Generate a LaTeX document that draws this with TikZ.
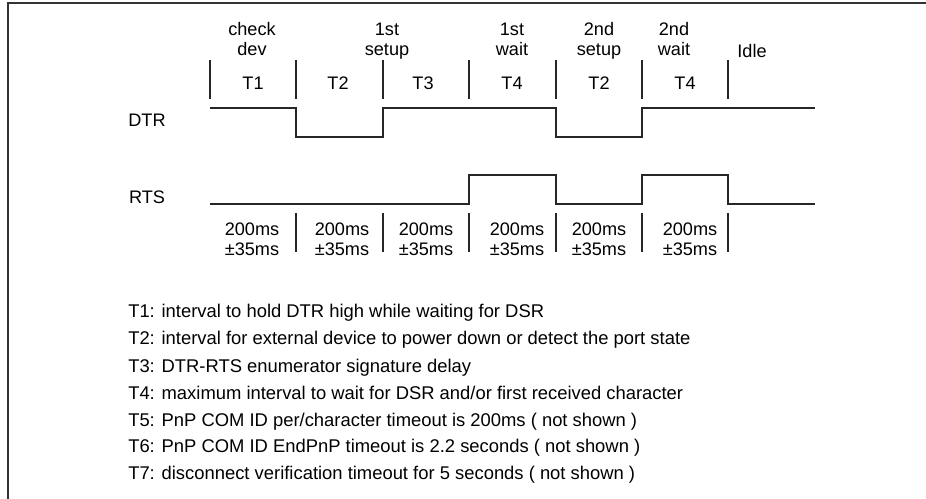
\documentclass[tikz,border=0pt]{standalone}
\usepackage{fontspec}
\setmainfont{Liberation Sans}
\begin{document}
\begin{tikzpicture}[x=0.75pt,y=-0.75pt,
  lbl/.style={inner sep=0pt, align=center, font=\fontsize{13.6}{15}\selectfont, text=black, text height=9.7pt, text depth=0pt},
  two/.style={inner sep=0pt, align=center, anchor=base, font=\fontsize{13.6}{15}\selectfont, text=black},
  legend/.style={inner sep=0pt, anchor=west, font=\fontsize{13.8}{15}\selectfont, text=black, text height=9.9pt, text depth=0pt},
  sig/.style={line width=0.9pt, draw=black!85},
  tickline/.style={line width=1pt, draw=black!85},
  frame/.style={line width=1.5pt, draw=black!80}]
\useasboundingbox (0,0) rectangle (926,499);
\draw[frame] (8,499) -- (8,3) -- (926,3);
% phase labels
\node[two] (p1) at (252,55.5) {check\\dev};
\node[two] (p2) at (387,55.5) {1st\\setup};
\node[two] (p3) at (512,55.5) {1st\\wait};
\node[two] (p4) at (599,55.5) {2nd\\setup};
\node[two] (p5) at (674,55.5) {2nd\\wait};
\node[two] (p6) at (752,57.5) {Idle};
% T labels
\node[lbl] (t1) at (253,83) {T1};
\node[lbl] (t2) at (338,83) {T2};
\node[lbl] (t3) at (423,83) {T3};
\node[lbl] (t4) at (512,83) {T4};
\node[lbl] (t5) at (599,83) {T2};
\node[lbl] (t6) at (685,83) {T4};
% top ticks
\foreach \x in {210,296,383,469,556,642,728} \draw[tickline] (\x,60) -- (\x,99);
% bottom ticks
\foreach \x in {296,383,469,556,642,728} \draw[tickline] (\x,213) -- (\x,252);
% signal names
\node[lbl] (dtr) at (147,120) {DTR};
\node[lbl] (rts) at (147,197) {RTS};
% DTR waveform
\draw[sig] (210,108) -- (296,108) -- (296,137) -- (383,137) -- (383,108) -- (556,108) -- (556,137) -- (642,137) -- (642,108) -- (815,108);
% RTS waveform
\draw[sig] (210,204) -- (469,204) -- (469,175) -- (556,175) -- (556,204) -- (642,204) -- (642,175) -- (728,175) -- (728,204) -- (815,204);
% durations
\node[two] (d1) at (252,255.5) {200ms\\±35ms};
\node[two] (d2) at (342,255.5) {200ms\\±35ms};
\node[two] (d3) at (426,255.5) {200ms\\±35ms};
\node[two] (d4) at (517,255.5) {200ms\\±35ms};
\node[two] (d5) at (599,255.5) {200ms\\±35ms};
\node[two] (d6) at (690,255.5) {200ms\\±35ms};
% legend
\node[legend] (l1) at (128,311) {T1: interval to hold DTR high while waiting for DSR};
\node[legend] (l2) at (128,338) {T2: interval for external device to power down or detect the port state};
\node[legend] (l3) at (128,365.5) {T3: DTR-RTS enumerator signature delay};
\node[legend] (l4) at (128,392.5) {T4: maximum interval to wait for DSR and/or first received character};
\node[legend] (l5) at (128,419.5) {T5: PnP COM ID per/character timeout is 200ms ( not shown )};
\node[legend] (l6) at (128,446) {T6: PnP COM ID EndPnP timeout is 2.2 seconds ( not shown )};
\node[legend] (l7) at (128,473) {T7: disconnect verification timeout for 5 seconds ( not shown )};
\end{tikzpicture}
\end{document}
